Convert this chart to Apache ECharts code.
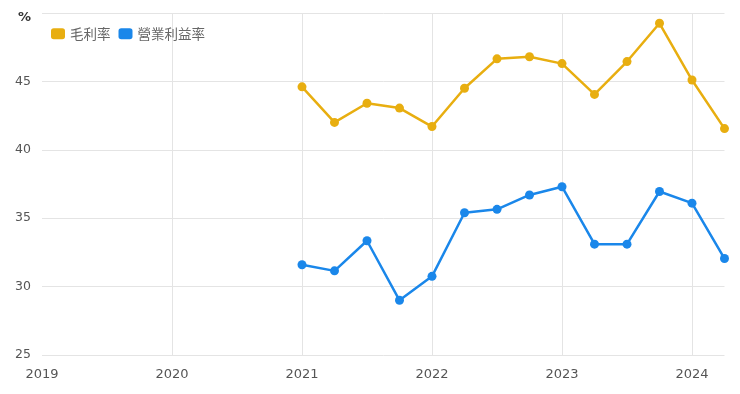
<!DOCTYPE html>
<html><head><meta charset="utf-8">
<script src="https://cdn.jsdelivr.net/npm/echarts@6/dist/echarts.min.js"></script>
<style>html,body{margin:0;padding:0;background:#fff}#c{width:740px;height:394px}</style>
</head><body><div id="c"></div>
<script>
const quarters = [2021.0,2021.25,2021.5,2021.75,2022.0,2022.25,2022.5,2022.75,2023.0,2023.25,2023.5,2023.75,2024.0,2024.25];
const grossMargin = [44.6,42.0,43.4,43.05,41.7,44.5,46.65,46.8,46.3,44.05,46.45,49.25,45.1,41.55];
const operatingMargin = [31.6,31.15,33.35,29.0,30.75,35.4,35.65,36.7,37.3,33.1,33.1,36.95,36.1,32.05];
const seriesNames = ['毛利率','營業利益率'];
const FONT = '"DejaVu Sans", "Noto Sans CJK TC", sans-serif';
const CJK = '"Noto Sans CJK TC", "Noto Sans", sans-serif';
const chart = echarts.init(document.getElementById('c'));
chart.setOption({
  animation:false,
  textStyle:{fontFamily:FONT},
  legend:{left:46,top:22,itemWidth:14,itemHeight:11,itemGap:8,icon:'roundRect',
    textStyle:{fontFamily:CJK,fontSize:13.5,color:'#666'},data:seriesNames},
  grid:{left:42,right:15.5,top:13,bottom:39,containLabel:false},
  xAxis:{type:'value',min:2019,max:2024.25,interval:1,
    axisLine:{show:false},axisTick:{show:false},
    axisLabel:{fontFamily:FONT,fontSize:13,color:'#555',margin:13,showMaxLabel:false,
      formatter:v=>Number.isInteger(v)?String(v):''},
    splitLine:{show:true,showMinLine:false,showMaxLine:false,lineStyle:{color:'#e4e4e4',width:1}}},
  yAxis:{type:'value',min:25,max:50,interval:5,
    axisLine:{show:false},axisTick:{show:false},
    axisLabel:{fontFamily:FONT,fontSize:12.5,color:'#555',margin:11,
      formatter:v=>v===50?'{u|%}':String(v),
      rich:{u:{fontFamily:FONT,fontSize:13,fontWeight:'bold',color:'#333',padding:[9,0,0,0]}}},
    splitLine:{lineStyle:{color:'#e4e4e4',width:1}}},
  series:[
    {name:seriesNames[0],type:'line',data:quarters.map((q,i)=>[q,grossMargin[i]]),
      color:'#E8AE10',symbol:'circle',symbolSize:9,lineStyle:{width:2.5}},
    {name:seriesNames[1],type:'line',data:quarters.map((q,i)=>[q,operatingMargin[i]]),
      color:'#1A87EA',symbol:'circle',symbolSize:9,lineStyle:{width:2.5}}
  ]
});
</script></body></html>
